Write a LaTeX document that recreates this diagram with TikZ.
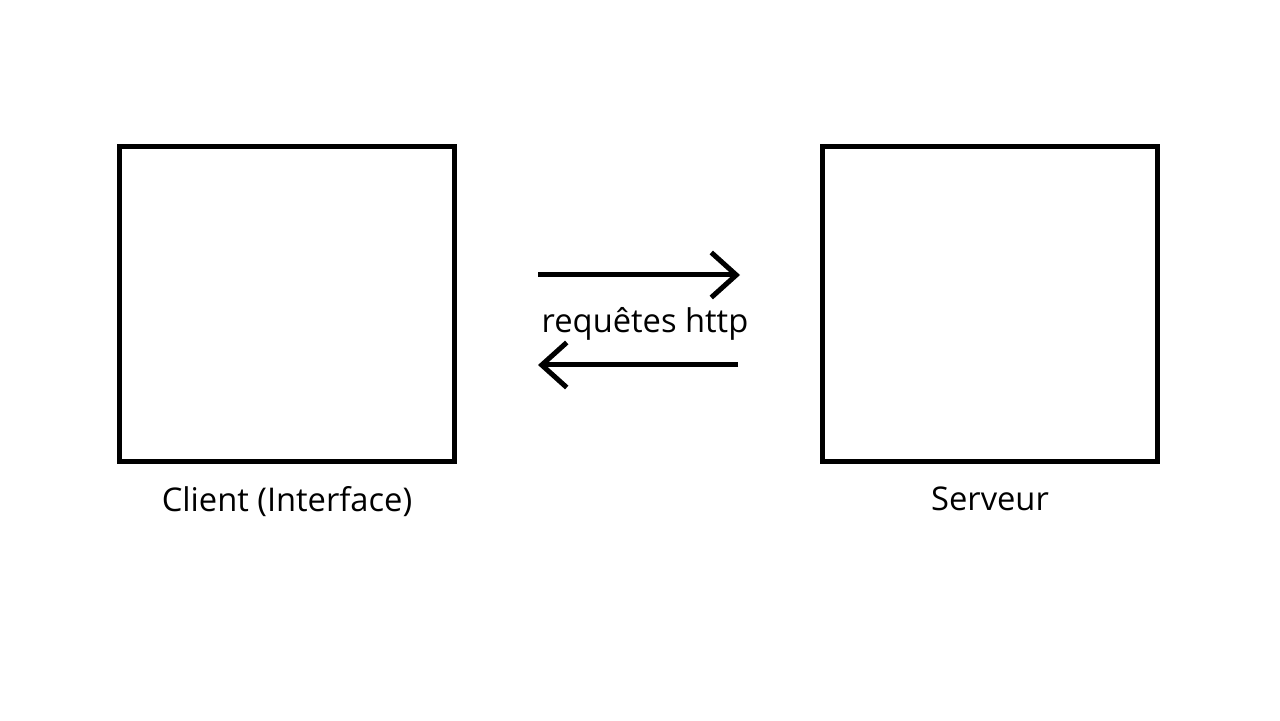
\documentclass[tikz,border=0pt]{standalone}
\usepackage{fontspec}
\setmainfont{Open Sans}
\usepackage{tikz}
\usetikzlibrary{positioning,arrows.meta}
\begin{document}
\begin{tikzpicture}[
            scatola/.style={draw=black, line width=0.11cm, fill=white,
                    minimum width=6.7cm, minimum height=6.3cm},
            etichetta/.style={font=\fontsize{18.6}{22}\selectfont, inner sep=0pt},
            freccia/.style={line width=0.1cm,
                    -{Straight Barb[length=0.5cm, width=0.9cm, line width=0.1cm]}}
        ]
        \useasboundingbox (0, 0) rectangle (25.6, 14.4);
        % scatole del client e del server
        \node[scatola] (cli) at (5.74, 8.32)  {};
        \node[scatola] (ser) at (19.80, 8.32) {};
        \node[etichetta, below=0.44cm of cli] (lcli) {Client (Interface)};
        \node[etichetta, below=0.44cm of ser] (lser) {Serveur};

        \node[etichetta] (req) at (12.9, 7.92) {requêtes http};
        \coordinate (a1) at (10.76, 8.9);
        \coordinate (a2) at (14.80, 8.9);
        \coordinate (b1) at (14.76, 7.1);
        \coordinate (b2) at (10.76, 7.1);
        \draw[freccia] (a1) -- (a2);
        \draw[freccia] (b1) -- (b2);
    \end{tikzpicture}
\end{document}
